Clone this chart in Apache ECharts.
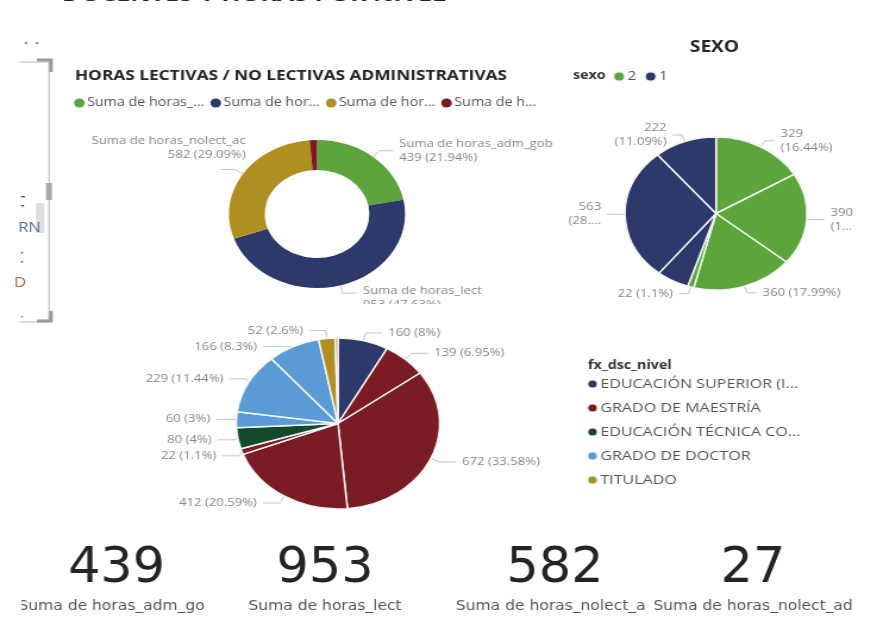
<!DOCTYPE html>
<html>
<head>
<meta charset="utf-8">
<script src="https://cdn.jsdelivr.net/npm/echarts@6/dist/echarts.min.js"></script>
<style>
  html, body { margin: 0; padding: 0; background: #fff; }
  #wrap { width: 870px; height: 617px; overflow: hidden; position: relative; }
  #chart { width: 731px; height: 617px; transform: scaleX(1.19); transform-origin: 0 0; }
</style>
</head>
<body>
<div id="wrap"><div id="chart"></div></div>
<script>
// ---------------- DATA ----------------
const horasNames = ['Suma de horas_adm_gob', 'Suma de horas_lect', 'Suma de horas_nolect_ac', 'Suma de horas_nolect_ad'];
const horasValues = [439, 953, 582, 27];
const horasLegendText = ['Suma de horas_...', 'Suma de hor...', 'Suma de hor...', 'Suma de h...'];

const sexoCategories = ['2', '1'];
const sexoSliceCat = ['2', '2', '2', '2', '1', '1', '1'];
const sexoValues = [329, 390, 360, 22, 115, 563, 222];
const sexoLabelShow = [true, true, true, true, false, true, true];

const nivelCategories = ['EDUCACIÓN SUPERIOR (I...', 'GRADO DE MAESTRÍA', 'EDUCACIÓN TÉCNICA CO...', 'GRADO DE DOCTOR', 'TITULADO'];
const nivelSliceCat = [0, 1, 1, 1, 1, 2, 3, 3, 3, 4, 4];
const nivelValues = [160, 139, 672, 412, 22, 80, 60, 229, 166, 52, 9];

const kpiValues = [439, 953, 582, 27];
const kpiCaptions = ['Suma de horas_adm_gob', 'Suma de horas_lect', 'Suma de horas_nolect_ac', 'Suma de horas_nolect_ad'];

const headerText = 'DOCENTES Y HORAS POR NIVEL';
const panelTextA = 'RN';
const panelTextB = 'D';

// ---------------- STYLE ----------------
const horasColors = ['#5ba53a', '#2d386b', '#b08f22', '#7b1c24'];
const sexoColors = { '2': '#5ba53a', '1': '#2d386b' };
const nivelColors = ['#2d386b', '#7b1c24', '#134a2b', '#5b9bd5', '#b08f22'];
const labelColor = '#8c857b';
const FONT = '"Open Sans", "Noto Sans", sans-serif';
const KFONT = '"DejaVu Sans Condensed", "DejaVu Sans", sans-serif';
const S = 1.19;
const X = px => px / S; // convert reference x to unscaled

function sum(a) { return a.reduce((s, v) => s + v, 0); }
function pct(v, t) { return Math.round(v / t * 10000) / 100; }

const horasTotal = sum(horasValues);
const sexoTotal = sum(sexoValues);
const nivelTotal = sum(nivelValues);

// mid angle (deg, clockwise from top) of each sexo slice, to pick one- or two-line labels
const sexoMid = [];
(function () { let acc = 0; sexoValues.forEach(v => { sexoMid.push((acc + v / 2) / sexoTotal * 360); acc += v; }); })();

const chart = echarts.init(document.getElementById('chart'), null, { renderer: 'canvas' });

const kpiX = [116.5, 325, 555, 753];

const graphic = [
  // cut header at top
  { type: 'text', x: X(62), y: 6, style: { text: headerText, font: 'bold 21px ' + FONT, fill: '#252423', textVerticalAlign: 'bottom' } },
  // dots
  { type: 'circle', shape: { cx: X(26), cy: 43, r: 1.3 }, style: { fill: '#999' } },
  { type: 'circle', shape: { cx: X(37), cy: 43, r: 1.3 }, style: { fill: '#999' } },
  // left panel frame
  { type: 'line', shape: { x1: X(20), y1: 62, x2: X(49), y2: 62 }, style: { stroke: '#cfcfcf', lineWidth: 1.5 } },
  { type: 'line', shape: { x1: X(49), y1: 62, x2: X(49), y2: 322 }, style: { stroke: '#cfcfcf', lineWidth: 1.5 } },
  { type: 'line', shape: { x1: X(20), y1: 322, x2: X(49), y2: 322 }, style: { stroke: '#cfcfcf', lineWidth: 1.5 } },
  { type: 'polyline', shape: { points: [[X(37), 60], [X(51), 60], [X(51), 72]] }, style: { stroke: '#9a9a9a', lineWidth: 3, fill: null } },
  { type: 'polyline', shape: { points: [[X(37), 321], [X(51), 321], [X(51), 311]] }, style: { stroke: '#9a9a9a', lineWidth: 3, fill: null } },
  { type: 'rect', shape: { x: X(46), y: 183, width: X(6), height: 17 }, style: { fill: '#a8a8a8' } },
  { type: 'rect', shape: { x: X(36), y: 203, width: X(8), height: 30 }, style: { fill: '#dedede' } },
  { type: 'rect', shape: { x: X(21), y: 196, width: X(4), height: 1.5 }, style: { fill: '#4a5a8a' } },
  { type: 'rect', shape: { x: X(21), y: 205, width: X(3), height: 1.5 }, style: { fill: '#4a5a8a' } },
  { type: 'text', x: X(18), y: 228, style: { text: panelTextA, font: '14px ' + FONT, fill: '#4e6a9a', textVerticalAlign: 'middle' } },
  { type: 'rect', shape: { x: X(21), y: 252, width: X(2), height: 1.5 }, style: { fill: '#4a5a8a' } },
  { type: 'rect', shape: { x: X(21), y: 261, width: X(2), height: 1.5 }, style: { fill: '#4a5a8a' } },
  { type: 'text', x: X(14), y: 283, style: { text: panelTextB, font: '14px ' + FONT, fill: '#a86a3a', textVerticalAlign: 'middle' } },
  { type: 'rect', shape: { x: X(21), y: 316, width: X(2), height: 1.5 }, style: { fill: '#5b9bd5' } },
  // sexo legend title
  { type: 'text', x: X(573), y: 76, style: { text: 'sexo', font: 'bold 12px ' + FONT, fill: '#333', textVerticalAlign: 'middle' } },
  // nivel legend title
  { type: 'text', x: X(588), y: 366, style: { text: 'fx_dsc_nivel', font: 'bold 12px ' + FONT, fill: '#333', textVerticalAlign: 'middle' } },
  // clip of donut visual bottom
  { type: 'rect', z: 100, shape: { x: X(350), y: 304, width: X(130), height: 10 }, style: { fill: '#fff' } }
];

kpiValues.forEach((v, i) => {
  graphic.push({ type: 'text', x: X(kpiX[i]), y: 569, scaleX: 0.95,
    style: { text: String(v), font: 'normal 50px ' + KFONT, fill: '#252423', textAlign: 'center', textVerticalAlign: 'middle' } });
  graphic.push({ type: 'text', x: X(kpiX[i]), y: 606,
    style: { text: kpiCaptions[i], font: '14.5px ' + KFONT, fill: '#555', textAlign: 'center', textVerticalAlign: 'middle' } });
});
// card clipping edges
graphic.push({ type: 'rect', z: 100, shape: { x: 0, y: 595, width: X(21.5), height: 22 }, style: { fill: '#fff' } });
graphic.push({ type: 'rect', z: 100, shape: { x: X(205.5), y: 595, width: X(12), height: 22 }, style: { fill: '#fff' } });
graphic.push({ type: 'rect', z: 100, shape: { x: X(645.5), y: 595, width: X(9), height: 22 }, style: { fill: '#fff' } });

const sexoBoxLeft = X(553);

const option = {
  animation: false,
  backgroundColor: '#fff',
  title: [
    { text: 'HORAS LECTIVAS / NO LECTIVAS ADMINISTRATIVAS', left: X(75), top: 68, padding: 0,
      textStyle: { fontSize: 14.5, fontWeight: 'bold', color: '#252423', fontFamily: FONT } },
    { text: 'SEXO', left: X(690), top: 39, padding: 0,
      textStyle: { fontSize: 16, fontWeight: 'bold', color: '#252423', fontFamily: FONT } }
  ],
  legend: [
    { seriesIndex: 0, data: horasNames, left: X(74), top: 97, orient: 'horizontal', icon: 'circle',
      itemWidth: 9, itemHeight: 9, itemGap: 5, padding: 0,
      formatter: n => horasLegendText[horasNames.indexOf(n)],
      textStyle: { fontSize: 12, color: '#555', fontFamily: FONT, padding: [0, 0, 0, -3] } },
    { data: sexoCategories, left: X(612), top: 70, orient: 'horizontal', icon: 'circle',
      itemWidth: 10, itemHeight: 10, itemGap: 6, padding: 0,
      textStyle: { fontSize: 13, color: '#555', fontFamily: FONT, padding: [0, 0, 0, -3] } },
    { data: nivelCategories, left: X(586), top: 377, orient: 'vertical', icon: 'circle',
      itemWidth: 9, itemHeight: 9, itemGap: 10, padding: 0,
      textStyle: { fontSize: 13.5, color: '#555', fontFamily: FONT, padding: [0, 0, 0, -3] } }
  ],
  graphic: graphic,
  series: [
    {
      type: 'pie', name: 'horas', center: [X(317), 214], radius: [44, 74],
      data: horasNames.map((n, i) => ({ name: n, value: horasValues[i], itemStyle: { color: horasColors[i] },
        label: { show: horasValues[i] / horasTotal > 0.02 }, labelLine: { show: horasValues[i] / horasTotal > 0.02 } })),
      label: { formatter: p => p.name + '\n' + p.value + ' (' + pct(p.value, horasTotal) + '%)',
        color: labelColor, fontSize: 11, fontFamily: FONT, lineHeight: 14 },
      labelLine: { length: 8, length2: 12, lineStyle: { color: '#c4c4c4', width: 1 } },
      labelLayout: p => p.dataIndex === 2 ? { dx: 26, dy: -22 } : (p.dataIndex === 1 ? { dy: 5 } : {}),
      itemStyle: { borderWidth: 0 }
    },
    {
      type: 'pie', name: 'sexo', left: sexoBoxLeft, top: 0, width: 731 - sexoBoxLeft, height: 617,
      center: [X(716) - sexoBoxLeft, 213.5], radius: 76.5, bleedMargin: 2,
      data: sexoValues.map((v, i) => ({ name: sexoSliceCat[i], value: v, itemStyle: { color: sexoColors[sexoSliceCat[i]] },
        label: { show: sexoLabelShow[i] }, labelLine: { show: sexoLabelShow[i] } })),
      label: { formatter: p => {
          const sep = (sexoMid[p.dataIndex] > 135 && sexoMid[p.dataIndex] < 225) ? ' ' : '\n';
          return p.value + sep + '(' + pct(p.value, sexoTotal) + '%)';
        },
        color: labelColor, fontSize: 11, fontFamily: FONT, lineHeight: 14 },
      labelLine: { length: 7, length2: 8, lineStyle: { color: '#c4c4c4', width: 1 } },
      itemStyle: { borderColor: '#f4f4f4', borderWidth: 1.5 }
    },
    {
      type: 'pie', name: 'nivel', center: [X(338), 423.5], radius: 85.5,
      data: nivelValues.map((v, i) => ({ name: nivelCategories[nivelSliceCat[i]], value: v,
        itemStyle: { color: nivelColors[nivelSliceCat[i]] },
        label: { show: v / nivelTotal > 0.005 }, labelLine: { show: v / nivelTotal > 0.005 } })),
      label: { formatter: p => p.value + ' (' + pct(p.value, nivelTotal) + '%)',
        color: labelColor, fontSize: 11, fontFamily: FONT, lineHeight: 14 },
      labelLine: { length: 8, length2: 14, lineStyle: { color: '#c4c4c4', width: 1 } },
      itemStyle: { borderColor: '#f4f4f4', borderWidth: 1.5 }
    }
  ]
};
chart.setOption(option);
</script>
</body>
</html>
